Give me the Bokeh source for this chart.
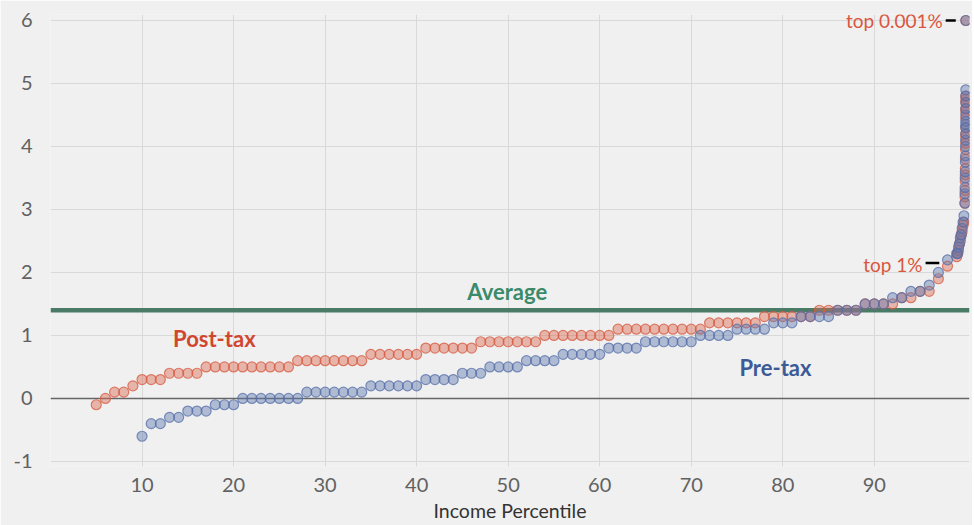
from bokeh.plotting import figure
from bokeh.models import Range1d, Span, Label, FixedTicker, ColumnDataSource, PrintfTickFormatter
from bokeh.embed import file_html
from bokeh.resources import INLINE

# ---------------- data ----------------
# income percentiles (integer part of the distribution)
post_tax_pct = [5, 6, 7, 8, 9, 10, 11, 12, 13, 14, 15, 16, 17, 18, 19, 20, 21, 22, 23, 24,
                25, 26, 27, 28, 29, 30, 31, 32, 33, 34, 35, 36, 37, 38, 39, 40, 41, 42, 43, 44,
                45, 46, 47, 48, 49, 50, 51, 52, 53, 54, 55, 56, 57, 58, 59, 60, 61, 62, 63, 64,
                65, 66, 67, 68, 69, 70, 71, 72, 73, 74, 75, 76, 77, 78, 79, 80, 81, 82, 83, 84,
                85, 86, 87, 88, 89, 90, 91, 92, 93, 94, 95, 96, 97, 98]
post_tax_val = [-0.1, 0.0, 0.1, 0.1, 0.2, 0.3, 0.3, 0.3, 0.4, 0.4, 0.4, 0.4, 0.5, 0.5, 0.5, 0.5, 0.5, 0.5, 0.5, 0.5,
                0.5, 0.5, 0.6, 0.6, 0.6, 0.6, 0.6, 0.6, 0.6, 0.6, 0.7, 0.7, 0.7, 0.7, 0.7, 0.7, 0.8, 0.8, 0.8, 0.8,
                0.8, 0.8, 0.9, 0.9, 0.9, 0.9, 0.9, 0.9, 0.9, 1.0, 1.0, 1.0, 1.0, 1.0, 1.0, 1.0, 1.0, 1.1, 1.1, 1.1,
                1.1, 1.1, 1.1, 1.1, 1.1, 1.1, 1.1, 1.2, 1.2, 1.2, 1.2, 1.2, 1.2, 1.3, 1.3, 1.3, 1.3, 1.3, 1.3, 1.4,
                1.4, 1.4, 1.4, 1.4, 1.5, 1.5, 1.5, 1.5, 1.6, 1.6, 1.7, 1.7, 1.9, 2.1]

pre_tax_pct = [10, 11, 12, 13, 14, 15, 16, 17, 18, 19, 20, 21, 22, 23, 24, 25, 26, 27, 28, 29,
               30, 31, 32, 33, 34, 35, 36, 37, 38, 39, 40, 41, 42, 43, 44, 45, 46, 47, 48, 49,
               50, 51, 52, 53, 54, 55, 56, 57, 58, 59, 60, 61, 62, 63, 64, 65, 66, 67, 68, 69,
               70, 71, 72, 73, 74, 75, 76, 77, 78, 79, 80, 81, 82, 83, 84, 85, 86, 87, 88, 89,
               90, 91, 92, 93, 94, 95, 96, 97, 98]
pre_tax_val = [-0.6, -0.4, -0.4, -0.3, -0.3, -0.2, -0.2, -0.2, -0.1, -0.1, -0.1, 0.0, 0.0, 0.0, 0.0, 0.0, 0.0, 0.0, 0.1, 0.1,
               0.1, 0.1, 0.1, 0.1, 0.1, 0.2, 0.2, 0.2, 0.2, 0.2, 0.2, 0.3, 0.3, 0.3, 0.3, 0.4, 0.4, 0.4, 0.5, 0.5,
               0.5, 0.5, 0.6, 0.6, 0.6, 0.6, 0.7, 0.7, 0.7, 0.7, 0.7, 0.8, 0.8, 0.8, 0.8, 0.9, 0.9, 0.9, 0.9, 0.9,
               0.9, 1.0, 1.0, 1.0, 1.0, 1.1, 1.1, 1.1, 1.1, 1.2, 1.2, 1.2, 1.3, 1.3, 1.3, 1.3, 1.4, 1.4, 1.4, 1.5,
               1.5, 1.5, 1.6, 1.6, 1.7, 1.7, 1.8, 2.0, 2.2]

# top percentile fractiles (p99 ... p99.999)
top_pct = [99.0, 99.1, 99.2, 99.3, 99.4, 99.5, 99.6, 99.7, 99.8, 99.9,
           99.91, 99.92, 99.93, 99.94, 99.95, 99.96, 99.97, 99.98, 99.99,
           99.991, 99.992, 99.993, 99.994, 99.995, 99.996, 99.997, 99.998, 99.999]
top_pre_tax = [2.3, 2.3, 2.4, 2.45, 2.55, 2.6, 2.7, 2.8, 2.9, 3.1,
               3.25, 3.35, 3.5, 3.6, 3.75, 3.85, 4.0, 4.1, 4.2,
               4.3, 4.35, 4.4, 4.5, 4.6, 4.7, 4.8, 4.9, 6.0]
top_post_tax = [2.25, 2.3, 2.35, 2.45, 2.5, 2.6, 2.65, 2.75, 2.8, 3.1,
                3.2, 3.3, 3.45, 3.55, 3.65, 3.8, 3.95, 4.05, 4.15,
                4.2, 4.3, 4.45, 4.55, 4.6, 4.7, 4.75, 4.8, 6.0]

average_value = 1.4
x_ticks = [10, 20, 30, 40, 50, 60, 70, 80, 90]
y_ticks = [-1, 0, 1, 2, 3, 4, 5, 6]

# ---------------- styling ----------------
BG = "#f0f0f0"
RED = "#dc6a52"
RED_EDGE = "#d65a40"
BLUE = "#5f78b0"
BLUE_EDGE = "#566fa8"
GREEN = "#4a7b66"
FONT = "Lato"

p = figure(width=972, height=525, output_backend="svg", toolbar_location=None,
           x_range=Range1d(0, 100.4), y_range=Range1d(-1.08, 6.095),
           min_border_left=50, min_border_right=3, min_border_top=14, min_border_bottom=59)
p.background_fill_color = BG
p.border_fill_color = BG
p.outline_line_color = None

p.xgrid.ticker = FixedTicker(ticks=x_ticks)
p.ygrid.ticker = FixedTicker(ticks=y_ticks)
p.xgrid.grid_line_color = "#d9d9d9"
p.ygrid.grid_line_color = "#d9d9d9"
p.xgrid.grid_line_width = 1
p.ygrid.grid_line_width = 1

p.xaxis.ticker = FixedTicker(ticks=x_ticks)
p.yaxis.ticker = FixedTicker(ticks=y_ticks)
p.yaxis.formatter = PrintfTickFormatter(format="%d")
p.xaxis.formatter = PrintfTickFormatter(format="%d")
for ax in (p.xaxis, p.yaxis):
    ax.axis_line_color = None
    ax.major_tick_line_color = None
    ax.minor_tick_line_color = None
    ax.major_label_text_font = FONT
    ax.major_label_text_font_size = "20px"
    ax.major_label_text_color = "#616161"
p.xaxis.major_label_standoff = 5
p.yaxis.major_label_standoff = 12
p.xaxis.axis_label = "Income Percentile"
p.xaxis.axis_label_text_font = FONT
p.xaxis.axis_label_text_font_style = "normal"
p.xaxis.axis_label_text_font_size = "19.5px"
p.xaxis.axis_label_text_color = "#333333"
p.xaxis.axis_label_standoff = 4

# reference lines
p.add_layout(Span(location=0, dimension="width", line_color="#666666", line_width=1.5, level="underlay"))
p.add_layout(Span(location=average_value, dimension="width", line_color=GREEN, line_width=4.5, level="underlay"))

# data
pre_src = ColumnDataSource(dict(x=pre_tax_pct + top_pct, y=pre_tax_val + top_pre_tax))
post_src = ColumnDataSource(dict(x=post_tax_pct + top_pct, y=post_tax_val + top_post_tax))
p.scatter("x", "y", source=post_src, size=10, fill_color=RED, fill_alpha=0.45,
          line_color=RED_EDGE, line_alpha=0.75, line_width=1.2)
p.scatter("x", "y", source=pre_src, size=10, fill_color=BLUE, fill_alpha=0.45,
          line_color=BLUE_EDGE, line_alpha=0.75, line_width=1.2)

# series labels
p.add_layout(Label(x=17.9, y=0.95, text="Post-tax", text_font=FONT, text_font_style="bold",
                   text_font_size="22px", text_color="#d0472f", text_align="center",
                   text_baseline="middle"))
p.add_layout(Label(x=79.2, y=0.49, text="Pre-tax", text_font=FONT, text_font_style="bold",
                   text_font_size="22px", text_color="#3d5a97", text_align="center",
                   text_baseline="middle"))
p.add_layout(Label(x=49.9, y=1.70, text="Average", text_font=FONT, text_font_style="bold",
                   text_font_size="22px", text_color="#3b8a69", text_align="center",
                   text_baseline="middle"))

# annotations for top groups
top_x, top_y = top_pct[-1], top_pre_tax[-1]
p.add_layout(Label(x=top_x, y=top_y, x_offset=-23, text="top 0.001%", text_font=FONT,
                   text_font_size="19px", text_color="#d9573f", text_align="right",
                   text_baseline="middle"))
p.segment(x0=[top_x - 2.2], y0=[top_y], x1=[top_x - 1.1], y1=[top_y],
          line_color="black", line_width=2.5)

one_x, one_y = pre_tax_pct[-1], pre_tax_val[-1]
p.add_layout(Label(x=one_x, y=one_y - 0.07, x_offset=-25, text="top 1%", text_font=FONT,
                   text_font_size="19px", text_color="#d9573f", text_align="right",
                   text_baseline="middle"))
p.segment(x0=[one_x - 2.4], y0=[one_y - 0.05], x1=[one_x - 0.9], y1=[one_y - 0.05],
          line_color="black", line_width=2.5)

open("out.html", "w").write(file_html(p, INLINE))
